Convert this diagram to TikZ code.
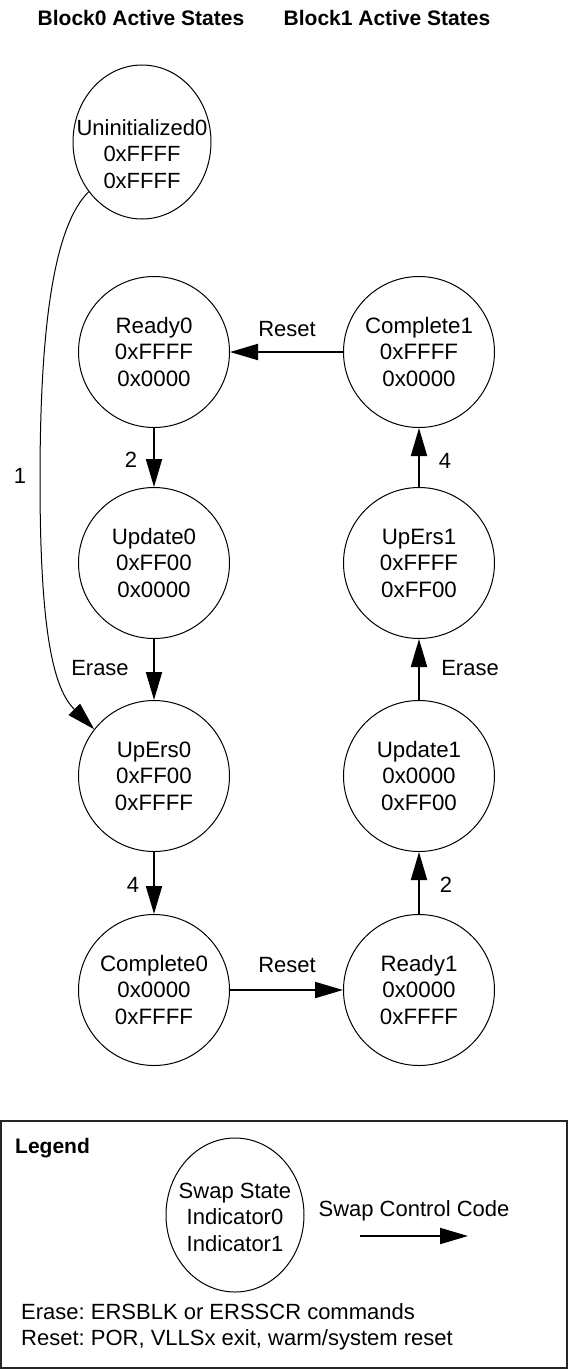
\documentclass[tikz,border=0pt]{standalone}
\usepackage{fontspec}
\setmainfont{Liberation Sans}
\usetikzlibrary{shapes.geometric,arrows.meta}
\frenchspacing
\begin{document}
\begin{tikzpicture}[x=1pt,y=-1pt,
 state/.style={circle,draw,line width=1pt,minimum size=151pt,inner sep=0pt,align=center,font=\fontsize{22.3}{26.5}\selectfont},
 oval/.style={ellipse,draw,line width=1pt,minimum width=138pt,minimum height=154pt,inner sep=0pt},
 txt/.style={align=center,font=\fontsize{22}{26.5}\selectfont,inner sep=0pt},
 lbl/.style={font=\fontsize{22}{26.5}\selectfont,inner sep=0pt,text height=15.7pt,text depth=0pt},
 ttl/.style={font=\bfseries\fontsize{21}{25}\selectfont,inner sep=0pt,text height=15pt,text depth=0pt},
 arr/.style={line width=2pt,-{Triangle[length=28pt,width=16pt]}},
 arrthin/.style={line width=1pt,-{Triangle[length=28pt,width=16pt]}}
]
\useasboundingbox (0,0) rectangle (568,1369);

% titles
\node[ttl] (t0) at (141,18) {Block0 Active States};
\node[ttl] (t1) at (387,18) {Block1 Active States};

% states
\node[oval] (U0) at (142,142) {};
\node[txt] (U0t) at (142,154) {Uninitialized0\\0xFFFF\\0xFFFF};
\node[state] (R0) at (154,352) {Ready0\\0xFFFF\\0x0000};
\node[state] (Up0) at (154,563) {Update0\\0xFF00\\0x0000};
\node[state] (E0) at (154,776) {UpErs0\\0xFF00\\0xFFFF};
\node[state] (C0) at (154,990) {Complete0\\0x0000\\0xFFFF};
\node[state] (C1) at (419,352) {Complete1\\0xFFFF\\0x0000};
\node[state] (E1) at (419,563) {UpErs1\\0xFFFF\\0xFF00};
\node[state] (Up1) at (419,776) {Update1\\0x0000\\0xFF00};
\node[state] (R1) at (419,990) {Ready1\\0x0000\\0xFFFF};

% connectors
\draw[arr] (R0) -- (Up0);
\draw[arr] (Up0) -- (E0);
\draw[arr] (E0) -- (C0);
\draw[arr] (C0) -- (R1);
\draw[arr] (R1) -- (Up1);
\draw[arr] (Up1) -- (E1);
\draw[arr] (E1) -- (C1);
\draw[arr] (C1) -- (R0);
\draw[arrthin] (U0.-137) .. controls (55,225) and (40,320) .. (40,480)
  .. controls (40,640) and (55,690) .. (E0.142);

% labels
\node[lbl] (l1) at (20,476) {1};
\node[lbl] (l2a) at (131,460) {2};
\node[lbl] (l4a) at (133,885) {4};
\node[lbl] (l2b) at (446,885) {2};
\node[lbl] (l4b) at (445,461) {4};
\node[lbl] (le0) at (100,668) {Erase};
\node[lbl] (le1) at (470,668) {Erase};
\node[lbl] (lr0) at (287,329) {Reset};
\node[lbl] (lr1) at (287,965) {Reset};

% legend
\node[draw=black!85,line width=1.5pt,minimum width=566pt,minimum height=247pt,inner sep=0pt] (leg) at (284,1244.5) {};
\node[ttl,anchor=west] (legt) at (15,1146) {Legend};
\node[oval] (LS) at (235,1215) {};
\node[txt] (LSt) at (235,1217) {Swap State\\Indicator0\\Indicator1};
\node[lbl] (lsc) at (414,1209) {Swap Control Code};
\coordinate (la) at (360,1236);
\coordinate (lb) at (468,1236);
\draw[arr] (la) -- (lb);
\node[lbl,anchor=west] (ler) at (21,1312) {Erase: ERSBLK or ERSSCR commands};
\node[lbl,anchor=west] (lrs) at (21,1338) {Reset: POR, VLLSx exit, warm/system reset};
\end{tikzpicture}
\end{document}
